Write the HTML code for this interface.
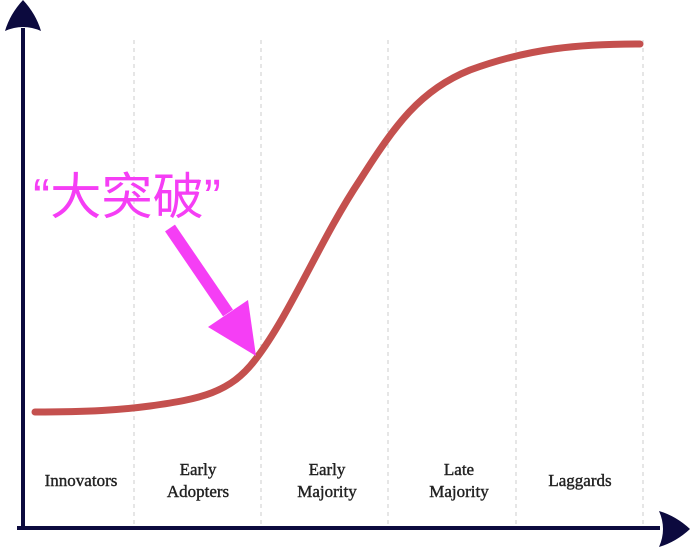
<!DOCTYPE html>
<html><head><meta charset="utf-8"><style>
html,body{margin:0;padding:0;background:#fff;}
svg{display:block}
</style></head><body>
<svg width="692" height="554" viewBox="0 0 692 554" xmlns="http://www.w3.org/2000/svg">
<g stroke="#ccc" stroke-width="1" stroke-dasharray="4,4">
<line x1="134" y1="40" x2="134" y2="526"/>
<line x1="261" y1="40" x2="261" y2="526"/>
<line x1="388" y1="40" x2="388" y2="526"/>
<line x1="516" y1="40" x2="516" y2="526"/>
<line x1="643" y1="40" x2="643" y2="526"/>
</g>
<line x1="23" y1="28" x2="23" y2="530" stroke="#0c0a3e" stroke-width="4"/>
<line x1="17" y1="528" x2="660" y2="528" stroke="#0c0a3e" stroke-width="4"/>
<path d="M23 0 Q10 14 5 31 Q14 27 23 27 Q32 27 41 31 Q36 14 23 0Z" fill="#0c0a3e"/>
<path d="M690 529 Q676 516 659 511 Q663 520 663 529 Q663 538 659 547 Q676 542 690 529Z" fill="#0c0a3e"/>
<path d="M35 412 C90 412 120 410 150 406 C200 399 230 393 255 360 C290 315 320 240 360 180 C395 125 420 90 470 70 C530 48 580 44 640 44" fill="none" stroke="#c4504e" stroke-width="7" stroke-linecap="round"/>
<text x="33" y="214" font-family="'Liberation Sans','Noto Sans CJK SC',sans-serif" font-size="50" fill="#f53ef5" textLength="188" lengthAdjust="spacingAndGlyphs">“大突破”</text>
<line x1="170" y1="228" x2="228" y2="313" stroke="#f53ef5" stroke-width="12"/>
<polygon points="256,356 208,327 248,300" fill="#f53ef5"/>
<g font-family="'Liberation Serif',serif" font-size="17" fill="#222" stroke="#222" stroke-width="0.4" text-anchor="middle">
<text x="81" y="486">Innovators</text>
<text x="198" y="475">Early</text><text x="198" y="497">Adopters</text>
<text x="327" y="475">Early</text><text x="327" y="497">Majority</text>
<text x="459" y="475">Late</text><text x="459" y="497">Majority</text>
<text x="580" y="486">Laggards</text>
</g>
</svg>
</body></html>
